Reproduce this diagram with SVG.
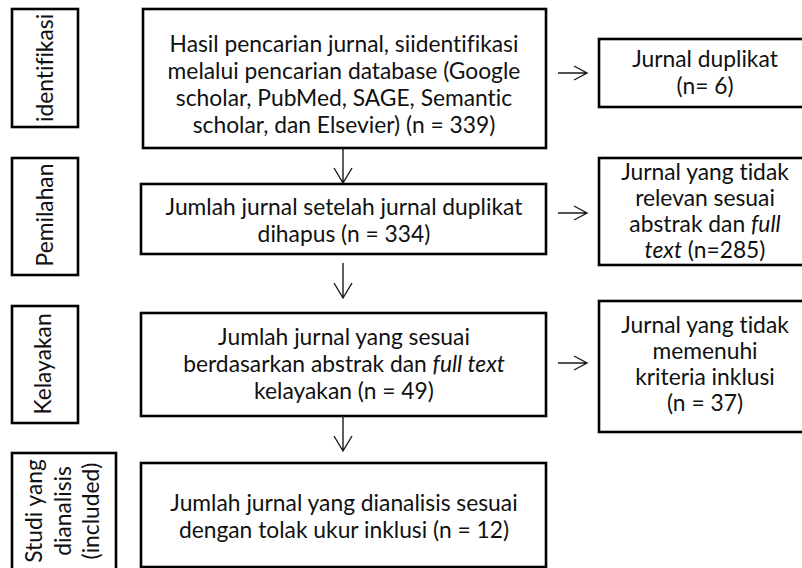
<svg xmlns="http://www.w3.org/2000/svg" width="802" height="568" viewBox="0 0 802 568">
<style>
.box{fill:#fff;stroke:#000;stroke-width:2.6}
.t{font-family:Lato,"Liberation Sans",sans-serif;font-size:22.8px;fill:#111;text-anchor:middle;font-variant-ligatures:none}
.c{fill:none;stroke:#1a1a1a;stroke-width:1.4}
</style>
<rect width="802" height="568" fill="#fff"/>
<g id="stage-identifikasi"><rect class="box" x="12" y="9" width="66" height="118"/><text class="t" transform="translate(53,68) rotate(-90)">identifikasi</text></g>
<g id="stage-pemilahan"><rect class="box" x="12" y="158" width="66" height="117"/><text class="t" transform="translate(53,215) rotate(-90)">Pemilahan</text></g>
<g id="stage-kelayakan"><rect class="box" x="12" y="306" width="66" height="117"/><text class="t" transform="translate(51,364) rotate(-90)">Kelayakan</text></g>
<g id="stage-studi"><rect class="box" x="12" y="453" width="104" height="130"/><text class="t" transform="translate(42,511) rotate(-90)">Studi yang</text><text class="t" transform="translate(71,511) rotate(-90)">dianalisis</text><text class="t" transform="translate(99,511) rotate(-90)">(included)</text></g>
<g id="n-hasil"><rect class="box" x="143" y="9" width="403" height="139"/><text class="t"><tspan x="344" y="52">Hasil pencarian jurnal, siidentifikasi</tspan><tspan x="344" y="79">melalui pencarian database (Google</tspan><tspan x="344" y="106">scholar, PubMed, SAGE, Semantic</tspan><tspan x="344" y="133">scholar, dan Elsevier) (n = 339)</tspan></text></g>
<g id="n-setelah"><rect class="box" x="141" y="184" width="405" height="70"/><text class="t"><tspan x="344" y="215">Jumlah jurnal setelah jurnal duplikat</tspan><tspan x="344" y="242">dihapus (n = 334)</tspan></text></g>
<g id="n-sesuai"><rect class="box" x="141" y="313" width="405" height="103"/><text class="t"><tspan x="344" y="345">Jumlah jurnal yang sesuai</tspan><tspan x="344" y="372">berdasarkan abstrak dan <tspan font-style="italic">full text</tspan></tspan><tspan x="344" y="399">kelayakan (n = 49)</tspan></text></g>
<g id="n-dianalisis"><rect class="box" x="141" y="463" width="405" height="104"/><text class="t"><tspan x="344" y="511">Jumlah jurnal yang dianalisis sesuai</tspan><tspan x="344" y="538">dengan tolak ukur inklusi (n = 12)</tspan></text></g>
<g id="r-duplikat"><rect class="box" x="599" y="39" width="212" height="68"/><text class="t"><tspan x="705" y="67">Jurnal duplikat</tspan><tspan x="705" y="94">(n= 6)</tspan></text></g>
<g id="r-relevan"><rect class="box" x="599" y="158" width="212" height="107"/><text class="t"><tspan x="705" y="180">Jurnal yang tidak</tspan><tspan x="705" y="206">relevan sesuai</tspan><tspan x="705" y="232">abstrak dan <tspan font-style="italic">full</tspan></tspan><tspan x="705" y="258"><tspan font-style="italic">text</tspan> (n=285)</tspan></text></g>
<g id="r-kriteria"><rect class="box" x="599" y="301" width="212" height="131"/><text class="t"><tspan x="705" y="333">Jurnal yang tidak</tspan><tspan x="705" y="359">memenuhi</tspan><tspan x="705" y="385">kriteria inklusi</tspan><tspan x="705" y="411">(n = 37)</tspan></text></g>
<g id="connectors">
<path class="c" d="M343 148V183M334 168L343 183L352 168"/>
<path class="c" d="M343 263V298M334 283L343 298L352 283"/>
<path class="c" d="M343 416V451M334 436L343 451L352 436"/>
<path class="c" d="M558 73H587M574 66L587 73L574 80"/>
<path class="c" d="M558 213H587M574 206L587 213L574 220"/>
<path class="c" d="M558 363H587M574 356L587 363L574 370"/>
</g>
</svg>
